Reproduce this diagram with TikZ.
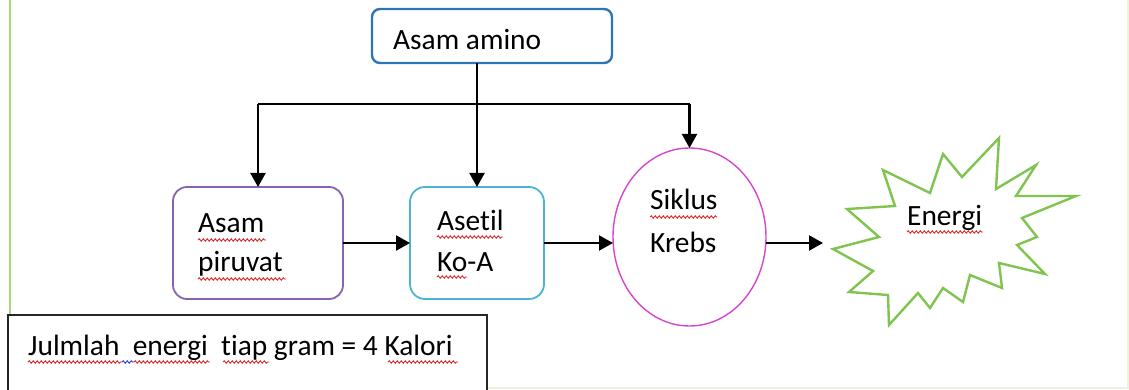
\documentclass[tikz,border=0pt]{standalone}
\usepackage{fontspec}
\setmainfont{Carlito}[Ligatures={NoCommon,NoRequired,NoContextual}]
\usetikzlibrary{arrows.meta,shapes.geometric,decorations.pathmorphing,calc}
\definecolor{aminoblue}{RGB}{46,117,182}
\definecolor{purp}{RGB}{136,100,176}
\definecolor{cyanb}{RGB}{75,180,210}
\definecolor{magen}{RGB}{214,70,204}
\definecolor{stargreen}{RGB}{128,196,80}
\definecolor{pagegreen}{RGB}{170,215,130}
\definecolor{faint}{RGB}{236,244,220}
\definecolor{squigred}{RGB}{220,40,40}
\definecolor{squigblue}{RGB}{40,60,220}
\begin{document}
\begin{tikzpicture}[x=1pt,y=-1pt,
  box/.style={draw, rounded corners=#1, inner sep=0pt, outer sep=0pt},
  lbl/.style={anchor=base west, inner sep=0pt, font=\fontsize{29.4}{35}\selectfont},
  conn/.style={line width=2.1pt, black},
  arr/.style={conn, -{Triangle[length=14pt,width=15pt]}},
  squig/.style={squigred, line width=0.9pt, decorate, decoration={snake, amplitude=1.2pt, segment length=4pt}}
]
\useasboundingbox (0,0) rectangle (1129,390);
% page edges
\draw[pagegreen, line width=1.5pt] (10,0) -- (10,316);
\draw[faint, line width=1.2pt] (1128,0) -- (1128,388) -- (487,388);

% shapes
\node[box=8pt, draw=aminoblue, line width=2.4pt, minimum width=240pt, minimum height=54pt] (amino) at (492,36) {};
\node[box=14pt, draw=purp, line width=1.8pt, minimum width=170pt, minimum height=112pt] (piruvat) at (258,243) {};
\node[box=15pt, draw=cyanb, line width=1.8pt, minimum width=134pt, minimum height=112pt] (asetil) at (477,243) {};
\node[ellipse, draw=magen, line width=1.4pt, inner sep=0pt, outer sep=0pt, minimum width=153pt, minimum height=178pt] (krebs) at (689.5,237) {};
\node[draw=black!85, line width=1.6pt, inner sep=0pt, outer sep=0pt, minimum width=479pt, minimum height=90pt] (note) at (247.5,360) {};

% star
\draw[stargreen, line width=2.4pt, line join=miter]
  (833,249) coordinate (starL) -- (879,237) -- (847,209) -- (895,206) -- (883,170) -- (930,193)
  -- (943,154) -- (962,177) -- (999,138) -- (996,189) -- (1036,165) -- (1016,196)
  -- (1076,196) -- (1022,218) -- (1037,237) -- (1017,245) -- (1045,274) -- (999,263)
  -- (1002,288) -- (970,275) -- (963,302) -- (943,288) -- (930,308) -- (918,293)
  -- (889,325) -- (888,295) -- (849,292) -- (873,271) -- cycle;
\coordinate (eend) at (823,243);

% texts
\node[lbl] (t1) at (393,50) {Asam amino};
\node[lbl] (t2a) at (198,233) {Asam};
\node[lbl] (t2b) at (198,271) {piruvat};
\node[lbl] (t3a) at (437,230) {Asetil};
\node[lbl] (t3b) at (437,271) {Ko-A};
\node[lbl] (t4a) at (650,210) {Siklus};
\node[lbl] (t4b) at (650,252) {Krebs};
\node[lbl] (t5) at (907,225) {Energi};
\node[lbl] (t6) at (28,355) {Julmlah\ \ energi\ \ tiap gram = 4 Kalori};

% spell-check underlines
\draw[squig] (198,240) -- (266,240);
\draw[squig] (198,279) -- (286,279);
\draw[squig] (437,237) -- (503,237);
\draw[squig] (437,277) -- (467,277);
\draw[squig] (650,217) -- (717,217);
\draw[squig] (907,232) -- (983,232);
\draw[squig] (28,362) -- (122,362);
\draw[squig, squigblue] (122,362) -- (134,362);
\draw[squig] (134,362) -- (210,362);
\draw[squig] (223,362) -- (269,362);
\draw[squig] (388,362) -- (458,362);

% connectors
\coordinate (j) at ($(asetil.north)+(0,-83)$);
\draw[conn] (amino.south -| asetil.north) -- (j);
\draw[conn] (piruvat.north |- j) -- (krebs.north |- j);
\draw[arr] (piruvat.north |- j) -- (piruvat.north);
\draw[arr] (j) -- (asetil.north);
\draw[arr] (krebs.north |- j) -- (krebs.north);
\draw[arr] (piruvat.east) -- (asetil.west |- piruvat.east);
\draw[arr] (asetil.east) -- (asetil.east -| krebs.west);
\draw[arr] (krebs.east |- asetil.east) -- (eend);
\end{tikzpicture}
\end{document}
